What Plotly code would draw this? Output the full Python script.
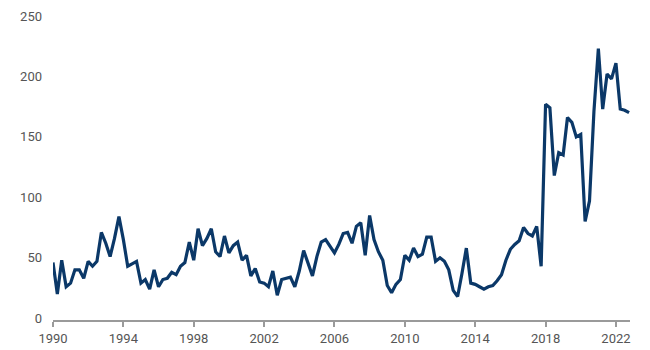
import pandas as pd
import plotly.graph_objects as go

# Quarterly values, 1990 Q1 .. 2022 Q4
values = [
    46, 20, 48, 26,     # 1990
    29, 40, 40, 33,     # 1991
    47, 43, 47, 71,     # 1992
    62, 51, 66, 84,     # 1993
    65, 43, 45, 47,     # 1994
    29, 32, 24, 40,     # 1995
    26, 32, 33, 38,     # 1996
    36, 43, 46, 63,     # 1997
    48, 74, 60, 66,     # 1998
    74, 55, 51, 68,     # 1999
    54, 60, 63, 48,     # 2000
    52, 35, 41, 30,     # 2001
    29, 26, 39, 19,     # 2002
    32, 33, 34, 26,     # 2003
    39, 56, 46, 35,     # 2004
    51, 63, 65, 59,     # 2005
    54, 61, 70, 71,     # 2006
    62, 76, 79, 52,     # 2007
    85, 65, 55, 48,     # 2008
    27, 21, 28, 32,     # 2009
    52, 48, 58, 51,     # 2010
    53, 67, 67, 47,     # 2011
    50, 47, 40, 23,     # 2012
    18, 37, 58, 29,     # 2013
    28, 26, 24, 26,     # 2014
    27, 31, 36, 48,     # 2015
    57, 61, 64, 75,     # 2016
    70, 68, 76, 43,     # 2017
    177, 174, 118, 137, # 2018
    135, 166, 162, 150, # 2019
    152, 80, 97, 171,   # 2020
    223, 173, 202, 198, # 2021
    211, 173, 172, 170, # 2022
]
dates = pd.date_range("1990-01-01", periods=len(values), freq="QS")

x_tick_vals = [f"{y}-01-01" for y in range(1990, 2023, 4)]
x_tick_text = [str(y) for y in range(1990, 2023, 4)]
y_tick_vals = [0, 50, 100, 150, 200, 250]

fig = go.Figure()
fig.add_trace(go.Scatter(
    x=dates, y=values, mode="lines",
    line=dict(color="#0b3868", width=3.2),
    hoverinfo="skip", showlegend=False,
))

fig.update_layout(
    width=650, height=350,
    margin=dict(l=53, r=20, t=16, b=30, autoexpand=False),
    paper_bgcolor="white", plot_bgcolor="white",
    font=dict(family="Roboto, Arial, sans-serif", size=13, color="#555555"),
)
fig.update_xaxes(
    type="date", range=["1990-01-01", "2022-10-20"],
    tickvals=x_tick_vals, ticktext=x_tick_text,
    showgrid=False, zeroline=False, automargin=False,
    showline=True, linecolor="#9a9a9a", linewidth=2,
    ticks="outside", ticklen=5, tickwidth=2, tickcolor="#9a9a9a",
)
fig.update_yaxes(
    range=[-1.5, 250], tickvals=y_tick_vals, automargin=False,
    showgrid=False, zeroline=False, showline=False,
    ticks="", ticklabelstandoff=10,
)

fig.write_html("out.html")
